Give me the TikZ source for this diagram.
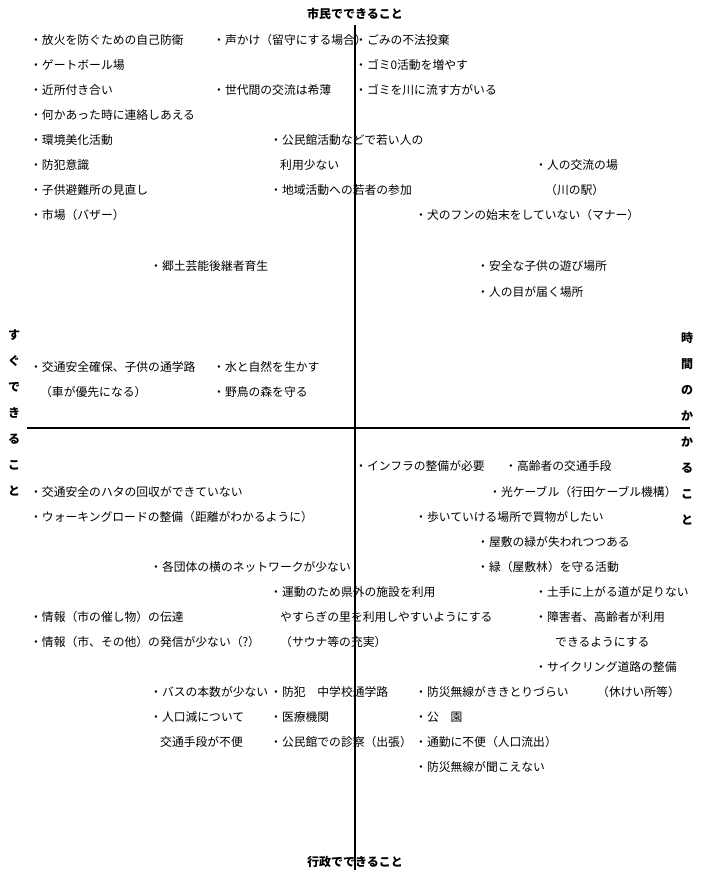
\documentclass[tikz,border=0pt]{standalone}
\usepackage{fontspec}
\setmainfont{Noto Sans CJK JP}
\begin{document}
\begin{tikzpicture}[x=1bp,y=-1bp,
  t/.style={anchor=west,inner sep=0pt,font=\fontsize{11.8bp}{12bp}\selectfont},
  ttl/.style={inner sep=0pt,font=\fontsize{12bp}{13bp}\selectfont\bfseries},
  vt/.style={inner sep=0pt,align=center,font=\fontsize{12bp}{26bp}\selectfont\bfseries},
  ax/.style={line width=2.6pt}]
\useasboundingbox (0,0) rectangle (706,884);
\coordinate (vtop) at (355,25); \coordinate (vbot) at (355,870);
\coordinate (hl) at (27,428); \coordinate (hr) at (690,428);
\draw[ax] (vtop) -- (vbot);
\draw[ax] (hl) -- (hr);
\node[ttl] (top) at (355,14) {市民でできること};
\node[ttl] (bot) at (355,862) {行政でできること};
\node[vt] (left) at (14,413) {す\\ぐ\\で\\き\\る\\こ\\と};
\node[vt] (right) at (687,429) {時\\間\\の\\か\\か\\る\\こ\\と};
\node[t] (a1) at (30,40) {・放火を防ぐための自己防衛};
\node[t] (a2) at (213,40) {・声かけ（留守にする場合）};
\node[t] (a3) at (355,40) {・ごみの不法投棄};
\node[t] (a4) at (30,65) {・ゲートボール場};
\node[t] (a5) at (355,65) {・ゴミ0活動を増やす};
\node[t] (a6) at (30,90) {・近所付き合い};
\node[t] (a7) at (213,90) {・世代間の交流は希薄};
\node[t] (a8) at (355,90) {・ゴミを川に流す方がいる};
\node[t] (a9) at (30,115) {・何かあった時に連絡しあえる};
\node[t] (a10) at (30,140) {・環境美化活動};
\node[t] (a11) at (270,140) {・公民館活動などで若い人の};
\node[t] (a12) at (280,165) {利用少ない};
\node[t] (a13) at (30,165) {・防犯意識};
\node[t] (a14) at (535,165) {・人の交流の場};
\node[t] (a15) at (545,190) {（川の駅）};
\node[t] (a16) at (30,190) {・子供避難所の見直し};
\node[t] (a17) at (270,190) {・地域活動への若者の参加};
\node[t] (a18) at (30,215) {・市場（バザー）};
\node[t] (a19) at (415,215) {・犬のフンの始末をしていない（マナー）};
\node[t] (a20) at (150,266) {・郷土芸能後継者育生};
\node[t] (a21) at (477,266) {・安全な子供の遊び場所};
\node[t] (a22) at (477,292) {・人の目が届く場所};
\node[t] (a23) at (30,367) {・交通安全確保、子供の通学路};
\node[t] (a24) at (213,367) {・水と自然を生かす};
\node[t] (a25) at (40,392) {（車が優先になる）};
\node[t] (a26) at (213,392) {・野鳥の森を守る};
\node[t] (b1) at (355,466) {・インフラの整備が必要};
\node[t] (b2) at (505,466) {・高齢者の交通手段};
\node[t] (b3) at (30,492) {・交通安全のハタの回収ができていない};
\node[t] (b4) at (489,492) {・光ケーブル（行田ケーブル機構）};
\node[t] (b5) at (30,517) {・ウォーキングロードの整備（距離がわかるように）};
\node[t] (b6) at (415,517) {・歩いていける場所で買物がしたい};
\node[t] (b7) at (477,542) {・屋敷の緑が失われつつある};
\node[t] (b8) at (150,567) {・各団体の横のネットワークが少ない};
\node[t] (b9) at (477,567) {・緑（屋敷林）を守る活動};
\node[t] (b10) at (270,592) {・運動のため県外の施設を利用};
\node[t] (b11) at (535,592) {・土手に上がる道が足りない};
\node[t] (b12) at (30,617) {・情報（市の催し物）の伝達};
\node[t] (b13) at (280,617) {やすらぎの里を利用しやすいようにする};
\node[t] (b14) at (535,617) {・障害者、高齢者が利用};
\node[t] (b15) at (555,642) {できるようにする};
\node[t] (b16) at (30,642) {・情報（市、その他）の発信が少ない（?）};
\node[t] (b17) at (280,642) {（サウナ等の充実）};
\node[t] (b18) at (535,667) {・サイクリング道路の整備};
\node[t] (b19) at (150,692) {・バスの本数が少ない};
\node[t] (b20) at (270,692) {・防犯　中学校通学路};
\node[t] (b21) at (415,692) {・防災無線がききとりづらい};
\node[t] (b22) at (597,692) {（休けい所等）};
\node[t] (b23) at (150,717) {・人口減について};
\node[t] (b24) at (270,717) {・医療機関};
\node[t] (b25) at (415,717) {・公　園};
\node[t] (b26) at (160,742) {交通手段が不便};
\node[t] (b27) at (270,742) {・公民館での診察（出張）};
\node[t] (b28) at (415,742) {・通勤に不便（人口流出）};
\node[t] (b29) at (415,767) {・防災無線が聞こえない};
\end{tikzpicture}
\end{document}
